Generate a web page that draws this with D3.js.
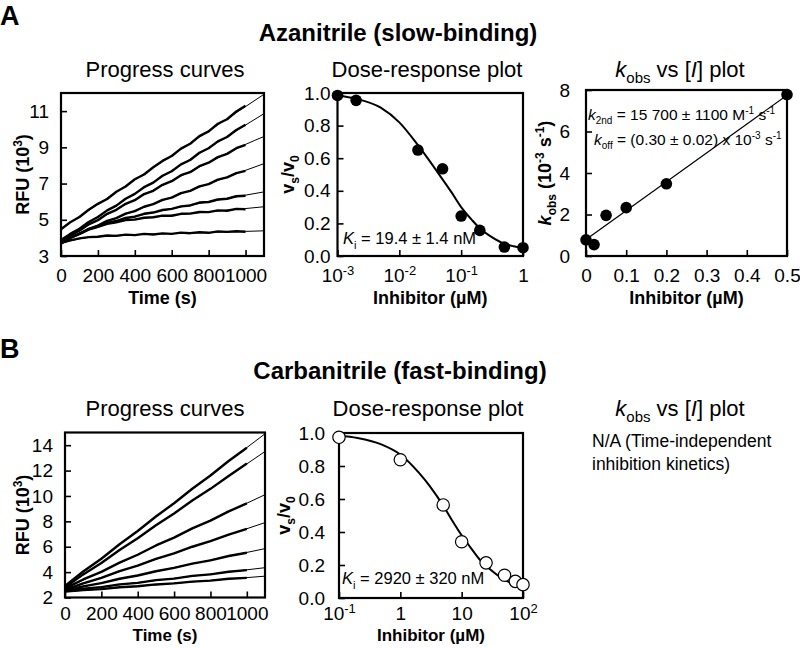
<!DOCTYPE html>
<html><head><meta charset="utf-8">
<script src="https://cdn.jsdelivr.net/npm/d3@7"></script>
<style>
body{margin:0;background:#fff}
svg{display:block}
text{font-family:"Liberation Sans",Arial,Helvetica,sans-serif;fill:#000}
</style>
</head><body>
<svg id="c" width="800" height="648"></svg>
<script>
// ---------------- DATA ----------------
// Panel A: progress curves (RFU x10^3 vs time, s)
const timeFitA = [0,100,200,300,400,500,600,700,800,900,1000,1100];
const fitA = [
  [4.50,5.18,5.85,6.53,7.20,7.88,8.55,9.23,9.90,10.58,11.25,11.93],
  [3.85,4.52,5.17,5.81,6.45,7.08,7.71,8.34,8.97,9.60,10.23,10.86],
  [3.80,4.42,5.01,5.57,6.11,6.64,7.16,7.67,8.17,8.67,9.16,9.60],
  [3.75,4.25,4.70,5.11,5.50,5.88,6.25,6.62,6.99,7.36,7.73,8.10],
  [3.70,4.25,4.65,4.95,5.19,5.41,5.61,5.81,6.00,6.18,6.36,6.54],
  [3.70,4.25,4.63,4.88,5.03,5.15,5.25,5.35,5.44,5.53,5.62,5.72],
  [3.70,3.95,4.08,4.14,4.18,4.21,4.24,4.27,4.30,4.33,4.36,4.39]
];
const timeDataA = [0,50,100,150,200,250,300,350,400,450,500,550,600,650,700,750,800,850,900,950,1000];
const dataA = [
  [4.48,4.86,5.15,5.55,5.88,6.15,6.55,6.84,7.24,7.50,7.90,8.25,8.52,8.93,9.20,9.62,9.88,10.30,10.55,10.98,11.30],
  [3.88,4.22,4.50,4.88,5.15,5.52,5.78,6.16,6.43,6.80,7.05,7.43,7.68,8.06,8.30,8.70,8.95,9.33,9.57,9.96,10.25],
  [3.78,4.14,4.40,4.75,4.98,5.33,5.55,5.88,6.08,6.42,6.60,6.93,7.13,7.46,7.63,7.96,8.15,8.46,8.64,8.95,9.14],
  [3.73,4.03,4.23,4.50,4.68,4.94,5.09,5.34,5.48,5.72,5.86,6.10,6.22,6.47,6.60,6.84,6.97,7.22,7.34,7.58,7.70],
  [3.72,4.00,4.22,4.48,4.63,4.83,4.93,5.10,5.17,5.33,5.40,5.54,5.60,5.74,5.79,5.95,5.98,6.12,6.16,6.30,6.33],
  [3.68,4.00,4.22,4.46,4.61,4.78,4.86,4.98,5.01,5.11,5.14,5.23,5.22,5.33,5.34,5.43,5.42,5.52,5.50,5.60,5.58],
  [3.72,3.86,3.97,4.04,4.06,4.13,4.11,4.18,4.15,4.22,4.19,4.25,4.22,4.29,4.26,4.31,4.28,4.36,4.33,4.37,4.34]
];
// Panel A: dose-response
const doseA_x = [0.001,0.002,0.02,0.05,0.1,0.2,0.5,1];
const doseA_y = [0.985,0.955,0.65,0.535,0.245,0.157,0.055,0.051];
const doseFitA_x = [0.001,0.002,0.005,0.01,0.02,0.03,0.05,0.07,0.1,0.15,0.2,0.3,0.5,0.7,1.0];
const doseFitA_y = [0.985,0.965,0.91,0.82,0.68,0.59,0.47,0.39,0.30,0.22,0.17,0.12,0.075,0.06,0.05];
// Panel A: kobs vs [I]
const kobs_x = [0,0.02,0.05,0.1,0.2,0.5];
const kobs_y = [0.78,0.55,1.96,2.33,3.48,7.78];
const kobsFit_x = [0,0.5];
const kobsFit_y = [0.8,7.75];

// Panel B: progress curves
const timeFitB = [0,1100];
const fitB = [[2.9,14.9],[2.8,13.5],[2.7,10.1],[2.6,7.9],[2.55,5.85],[2.5,4.35],[2.45,3.68]];
const timeDataB = [0,100,200,300,400,500,600,700,800,900,1000];
const dataB = [
  [2.92,4.05,5.05,6.20,7.24,8.38,9.43,10.57,11.61,12.75,13.80],
  [2.78,3.82,4.72,5.75,6.67,7.70,8.62,9.64,10.56,11.58,12.55],
  [2.72,3.42,4.02,4.75,5.37,6.10,6.72,7.45,8.06,8.78,9.42],
  [2.62,3.12,3.54,4.08,4.51,5.04,5.47,6.00,6.44,6.96,7.40],
  [2.57,2.88,3.13,3.48,3.73,4.07,4.33,4.67,4.93,5.27,5.53],
  [2.52,2.70,2.82,3.03,3.15,3.37,3.49,3.70,3.82,4.03,4.16],
  [2.47,2.58,2.66,2.81,2.89,3.03,3.11,3.25,3.33,3.48,3.55]
];
// Panel B: dose-response
const doseB_x = [0.1,1,5,10,25,50,75,100];
const doseB_y = [0.974,0.838,0.564,0.341,0.213,0.138,0.101,0.081];
const doseFitB_x = [0.1,0.2,0.5,1,2,3,5,7,10,15,20,30,50,70,100];
const doseFitB_y = [0.985,0.97,0.93,0.87,0.76,0.68,0.56,0.47,0.38,0.29,0.23,0.17,0.11,0.085,0.065];

// tick values
const progA_xTicks = [0,200,400,600,800,1000];
const progA_yTicks = [3,5,7,9,11];
const progB_yTicks = [2,4,6,8,10,12,14];
const dose_yTicks = [0,0.2,0.4,0.6,0.8,1.0];
const doseA_xTicks = [0.001,0.01,0.1,1];
const doseA_xLabels = [["10","-3"],["10","-2"],["10","-1"],["1",""]];
const doseB_xTicks = [0.1,1,10,100];
const doseB_xLabels = [["10","-1"],["1",""],["10",""],["10","2"]];
const kobs_xTicks = [0,0.1,0.2,0.3,0.4,0.5];
const kobs_yTicks = [0,2,4,6,8];

// ---------------- DRAWING ----------------
const svg = d3.select('#c');

function rich(sel, parts, size) {
  let shift = 0;
  parts.forEach(p => {
    if (p.t === '') return;
    const ts = sel.append('tspan').text(p.t);
    const target = p.sub ? 0.28*size : (p.sup ? -0.38*size : 0);
    if (target - shift !== 0) ts.attr('dy', target - shift);
    shift = target;
    if (p.sub || p.sup) ts.attr('font-size', Math.round(size*0.66));
    if (p.it) ts.attr('font-style', 'italic');
  });
}

function panel(opts) {
  const g = svg.append('g');
  const x = opts.x, y = opts.y;
  const [x0, x1] = x.range(), [yb, yt] = y.range();
  const TS = opts.ts || 19;
  const ax = g.append('g').attr('transform', `translate(0,${yb})`)
    .call(d3.axisBottom(x).tickValues(opts.xTicks).tickSize(-6).tickPadding(opts.xPad || 13)
      .tickFormat(opts.xFmt || (d => d)));
  const ay = g.append('g').attr('transform', `translate(${x0},0)`)
    .call(d3.axisLeft(y).tickValues(opts.yTicks).tickSize(-6).tickPadding(opts.yPad || 12)
      .tickFormat(opts.yFmt || (d => d)));
  [ax, ay].forEach(a => {
    a.select('.domain').remove();
    a.selectAll('.tick line').attr('stroke', '#000').attr('stroke-width', 1.6);
    a.selectAll('.tick text').attr('font-size', TS).attr('font-family', null).attr('fill', '#000');
  });
  if (opts.xLabels) {
    ax.selectAll('.tick text').each(function(d, i) {
      const t = d3.select(this).text('');
      rich(t, [{t: opts.xLabels[i][0]}, {t: opts.xLabels[i][1], sup: true}], TS);
    });
  }
  g.append('rect').attr('x', x0).attr('y', yt).attr('width', x1 - x0).attr('height', yb - yt)
    .attr('fill', 'none').attr('stroke', '#000').attr('stroke-width', 2.2);
  // axis titles
  const XS = opts.xts || 18;
  const xt = g.append('text').attr('x', (x0 + x1) / 2).attr('y', yb + (opts.xTitleDy || 48))
    .attr('text-anchor', 'middle').attr('font-weight', 'bold').attr('font-size', XS);
  rich(xt, opts.xTitle, XS);
  const yt2 = g.append('text').attr('transform', `translate(${opts.yTitleX},${(yb + yt) / 2}) rotate(-90)`)
    .attr('text-anchor', 'middle').attr('font-weight', 'bold').attr('font-size', 18);
  rich(yt2, opts.yTitle, 18);
  // subplot title
  const st = g.append('text').attr('x', opts.titleX).attr('y', opts.titleY)
    .attr('text-anchor', 'middle').attr('font-size', 22);
  rich(st, opts.title, 22);
  return g;
}

function line(x, y) {
  return d3.line().x(d => x(d[0])).y(d => y(d[1]));
}

const titleProg = [{t: 'Progress curves'}];
const titleDose = [{t: 'Dose-response plot'}];
const titleKobs = [{t: 'k', it: true}, {t: 'obs', sub: true}, {t: ' vs ['}, {t: 'I', it: true}, {t: '] plot'}];
const rfuTitle = [{t: 'RFU (10'}, {t: '3', sup: true}, {t: ')'}];
const vTitle = [{t: 'v'}, {t: 's', sub: true}, {t: '/v'}, {t: '0', sub: true}];
const timeTitle = [{t: 'Time (s)'}];
const inhTitle = [{t: 'Inhibitor (µM)'}];

// ===== Panel A =====
svg.append('text').attr('x', 0).attr('y', 25).attr('font-size', 27).attr('font-weight', 'bold').text('A');
svg.append('text').attr('x', 398).attr('y', 41).attr('font-size', 24).attr('font-weight', 'bold')
  .attr('text-anchor', 'middle').text('Azanitrile (slow-binding)');

// A progress
{
  const x = d3.scaleLinear().domain([0, 1100]).range([61, 264]);
  const y = d3.scaleLinear().domain([3, 12]).range([256, 93]);
  const g = panel({x, y, xTicks: progA_xTicks, yTicks: progA_yTicks, xTitle: timeTitle, yTitle: rfuTitle,
    yTitleX: 29, title: titleProg, titleX: 165, titleY: 77});
  const l = line(x, y);
  dataA.forEach(arr => g.append('path').attr('d', l(arr.map((v, i) => [timeDataA[i], v])))
    .attr('fill', 'none').attr('stroke', '#000').attr('stroke-width', 2.4).attr('stroke-linejoin', 'round'));
  const lf = line(x, y).curve(d3.curveMonotoneX);
  fitA.forEach(arr => g.append('path').attr('d', lf(arr.map((v, i) => [timeFitA[i], v])))
    .attr('fill', 'none').attr('stroke', '#000').attr('stroke-width', 1));
}

// A dose-response
{
  const x = d3.scaleLog().domain([0.001, 1]).range([337.5, 523]);
  const y = d3.scaleLinear().domain([0, 1]).range([256, 93]);
  const g = panel({x, y, xTicks: doseA_xTicks, xLabels: doseA_xLabels, yTicks: dose_yTicks,
    yFmt: d3.format('.1f'), yPad: 7, xTitle: inhTitle, yTitle: vTitle, yTitleX: 294,
    title: titleDose, titleX: 427, titleY: 77});
  const lf = line(x, y).curve(d3.curveMonotoneX);
  g.append('path').attr('d', lf(doseFitA_x.map((v, i) => [v, doseFitA_y[i]])))
    .attr('fill', 'none').attr('stroke', '#000').attr('stroke-width', 2);
  g.selectAll('circle.p').data(doseA_x).enter().append('circle')
    .attr('cx', d => x(d)).attr('cy', (d, i) => y(doseA_y[i])).attr('r', 5.8).attr('fill', '#000');
  const t = g.append('text').attr('x', 343).attr('y', 244).attr('font-size', 16.5);
  rich(t, [{t: 'K', it: true}, {t: 'i', sub: true}, {t: ' = 19.4 ± 1.4 nM'}], 16.5);
}

// A kobs
{
  const x = d3.scaleLinear().domain([0, 0.5]).range([586, 787]);
  const y = d3.scaleLinear().domain([0, 8]).range([256, 90]);
  const g = panel({x, y, xTicks: kobs_xTicks, yTicks: kobs_yTicks, xFmt: d => d === 0 ? '0' : d3.format('.1f')(d),
    yPad: 16, xTitle: inhTitle,
    yTitle: [{t: 'k', it: true}, {t: 'obs', sub: true}, {t: ' (10'}, {t: '-3', sup: true}, {t: ' s'}, {t: '-1', sup: true}, {t: ')'}],
    yTitleX: 551, title: titleKobs, titleX: 680, titleY: 77});
  g.append('path').attr('d', line(x, y)(kobsFit_x.map((v, i) => [v, kobsFit_y[i]])))
    .attr('fill', 'none').attr('stroke', '#000').attr('stroke-width', 1.2);
  g.selectAll('circle.p').data(kobs_x).enter().append('circle')
    .attr('cx', d => x(d)).attr('cy', (d, i) => y(kobs_y[i])).attr('r', 5.8).attr('fill', '#000');
  const t1 = g.append('text').attr('x', 588).attr('y', 120).attr('font-size', 15.5);
  rich(t1, [{t: 'k', it: true}, {t: '2nd', sub: true}, {t: ' = 15 700 ± 1100 M'}, {t: '-1', sup: true}, {t: ' s'}, {t: '-1', sup: true}], 15.5);
  const t2 = g.append('text').attr('x', 594).attr('y', 145).attr('font-size', 15.5);
  rich(t2, [{t: 'k', it: true}, {t: 'off', sub: true}, {t: ' = (0.30 ± 0.02) x 10'}, {t: '-3', sup: true}, {t: ' s'}, {t: '-1', sup: true}], 15.5);
}

// ===== Panel B =====
svg.append('text').attr('x', 0).attr('y', 358).attr('font-size', 27).attr('font-weight', 'bold').text('B');
svg.append('text').attr('x', 400).attr('y', 379).attr('font-size', 24).attr('font-weight', 'bold')
  .attr('text-anchor', 'middle').text('Carbanitrile (fast-binding)');

// B progress
{
  const x = d3.scaleLinear().domain([0, 1100]).range([65, 265]);
  const y = d3.scaleLinear().domain([2, 15]).range([597.5, 432.5]);
  const g = panel({x, y, xTicks: progA_xTicks, yTicks: progB_yTicks, xTitle: timeTitle, yTitle: rfuTitle,
    yTitleX: 29, title: titleProg, titleX: 165, titleY: 416, xPad: 9, xTitleDy: 43.5, xts: 17});
  const l = line(x, y);
  dataB.forEach(arr => g.append('path').attr('d', l(arr.map((v, i) => [timeDataB[i], v])))
    .attr('fill', 'none').attr('stroke', '#000').attr('stroke-width', 2.4).attr('stroke-linejoin', 'round'));
  fitB.forEach(arr => g.append('path').attr('d', l(arr.map((v, i) => [timeFitB[i], v])))
    .attr('fill', 'none').attr('stroke', '#000').attr('stroke-width', 1));
}

// B dose-response
{
  const x = d3.scaleLog().domain([0.1, 100]).range([339, 523]);
  const y = d3.scaleLinear().domain([0, 1]).range([598, 433]);
  const g = panel({x, y, xTicks: doseB_xTicks, xLabels: doseB_xLabels, yTicks: dose_yTicks,
    yFmt: d3.format('.1f'), yPad: 14, xTitle: inhTitle, yTitle: vTitle, yTitleX: 290,
    title: titleDose, titleX: 428, titleY: 416, xPad: 9, xTitleDy: 43, xts: 17});
  const lf = line(x, y).curve(d3.curveMonotoneX);
  g.append('path').attr('d', lf(doseFitB_x.map((v, i) => [v, doseFitB_y[i]])))
    .attr('fill', 'none').attr('stroke', '#000').attr('stroke-width', 2);
  g.selectAll('circle.p').data(doseB_x).enter().append('circle')
    .attr('cx', d => x(d)).attr('cy', (d, i) => y(doseB_y[i])).attr('r', 6.2)
    .attr('fill', '#fff').attr('stroke', '#000').attr('stroke-width', 1.2);
  const t = g.append('text').attr('x', 342).attr('y', 584).attr('font-size', 16.5);
  rich(t, [{t: 'K', it: true}, {t: 'i', sub: true}, {t: ' = 2920 ± 320 nM'}], 16.5);
}

// B kobs (N/A)
{
  const st = svg.append('text').attr('x', 680).attr('y', 416).attr('text-anchor', 'middle').attr('font-size', 22);
  rich(st, titleKobs, 22);
  svg.append('text').attr('x', 592).attr('y', 447).attr('font-size', 17.5).text('N/A (Time-independent');
  svg.append('text').attr('x', 592).attr('y', 470).attr('font-size', 17.5).text('inhibition kinetics)');
}
</script>
</body></html>
